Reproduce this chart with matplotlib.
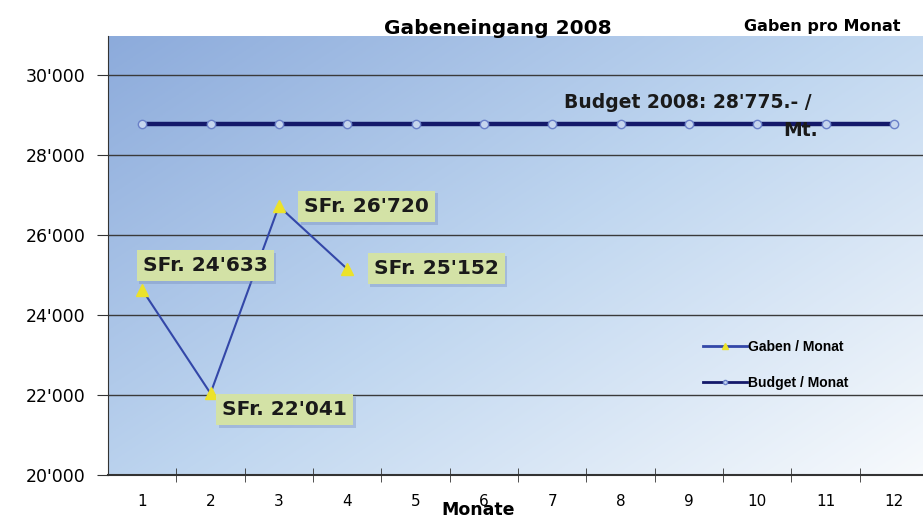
import matplotlib
matplotlib.use("Agg")
import matplotlib.pyplot as plt
import numpy as np
from matplotlib.ticker import FuncFormatter, FixedLocator
import matplotlib.patheffects as pe

months = list(range(1, 13))
gaben_months = [1, 2, 3, 4]
gaben_values = [24633, 22041, 26720, 25152]
budget_value = 28775
budget_values = [budget_value] * 12
label_texts = ["SFr. 24'633", "SFr. 22'041", "SFr. 26'720", "SFr. 25'152"]
y_ticks = [20000, 22000, 24000, 26000, 28000, 30000]

plt.rcParams['font.family'] = ['DejaVu Sans']

fig = plt.figure(figsize=(9.23, 5.18), dpi=100)
ax = fig.add_axes([108/923, 43/518, 820/923, 439/518])
ax.set_xlim(0.5, 12.5)
ax.set_ylim(20000, 30975)

# gradient background
nx, ny = 300, 200
xx, yy = np.meshgrid(np.linspace(0, 1, nx), np.linspace(1, 0, ny))
t = np.clip((xx * 0.55 + (1 - yy) * 0.45), 0, 1)
c0 = np.array([0.55, 0.67, 0.86])
c1 = np.array([0.75, 0.84, 0.94])
c2 = np.array([0.97, 0.98, 0.99])
img = np.where(t[..., None] < 0.5,
               c0 + (c1 - c0) * (t[..., None] / 0.5),
               c1 + (c2 - c1) * ((t[..., None] - 0.5) / 0.5))
ax.imshow(img, extent=[0, 1, 0, 1], transform=ax.transAxes, aspect='auto', zorder=0)

for yv in y_ticks:
    ax.axhline(yv, color='#3a3a3a', lw=1.0, zorder=1)

# series
ax.plot(months, budget_values, color='#14196a', lw=3.2, marker='o', ms=6,
        mfc='#c5d5ee', mec='#6a80c8', mew=1, zorder=3, label='Budget / Monat')
ax.plot(gaben_months, gaben_values, color='#3347a8', lw=1.5, marker='^', ms=8,
        mfc='#ece22a', mec='#ece22a', zorder=4, label='Gaben / Monat')

offsets = [(63, 24), (74, -16), (88, 0), (89, 0)]
for xv, yv, txt, off in zip(gaben_months, gaben_values, label_texts, offsets):
    an = ax.annotate(txt, (xv, yv), xytext=off, textcoords='offset pixels',
                     ha='center', va='center', fontsize=14.5, fontweight='bold', color='#1a1a1a',
                     bbox=dict(boxstyle='square,pad=0.3', fc='#d3e2a6', ec='none'),
                     zorder=6)
    an.get_bbox_patch().set_path_effects([
        pe.SimplePatchShadow(offset=(2, -2), shadow_rgbFace='#6f86b8', alpha=0.35), pe.Normal()])

ax.text(812, 518 - 103, "Budget 2008: 28'775.- /", transform=None, ha='right', va='center',
        fontsize=13.5, fontweight='bold', color='#1a1a1a', zorder=6)
ax.text(818, 518 - 131, "Mt.", transform=None, ha='right', va='center',
        fontsize=13.5, fontweight='bold', color='#1a1a1a', zorder=6)

# axes styling
for s in ['top', 'right']:
    ax.spines[s].set_visible(False)
ax.spines['left'].set_color('#333333')
ax.spines['bottom'].set_color('#333333')
ax.spines['bottom'].set_linewidth(1.5)
ax.yaxis.set_major_locator(FixedLocator(y_ticks))
ax.yaxis.set_major_formatter(FuncFormatter(lambda v, p: f"{int(v):,}".replace(',', "'")))
ax.tick_params(axis='y', direction='out', length=8, labelsize=12.5, pad=8, color='#333333')
ax.set_xticks(months)
ax.set_xticklabels([str(m) for m in months])
ax.tick_params(axis='x', which='major', length=0, labelsize=11, pad=14)
ax.set_xticks(np.arange(1.5, 12.5, 1), minor=True)
ax.tick_params(axis='x', which='minor', direction='inout', length=10, color='#333333')

fig.text(478/923, 1 - 510/518, 'Monate', ha='center', va='center', fontsize=12.5, fontweight='bold')
fig.text(498/923, 1 - 29/518, 'Gabeneingang 2008', ha='center', va='center', fontsize=14.5, fontweight='bold')
fig.text(822/923, 1 - 26/518, 'Gaben pro Monat', ha='center', va='center', fontsize=11.5, fontweight='bold')

h, l = ax.get_legend_handles_labels()
leg = ax.legend([h[1], h[0]], [l[1], l[0]], loc='center left', bbox_to_anchor=(690/923, 1 - 365/518),
                bbox_transform=fig.transFigure, frameon=False, handlelength=3.2,
                handletextpad=0.1, labelspacing=1.55, markerscale=0.5,
                prop=dict(family='Liberation Sans', weight='bold', size=10))
for line in leg.get_lines():
    line.set_linewidth(2)

fig.savefig('out.png', dpi=100)
